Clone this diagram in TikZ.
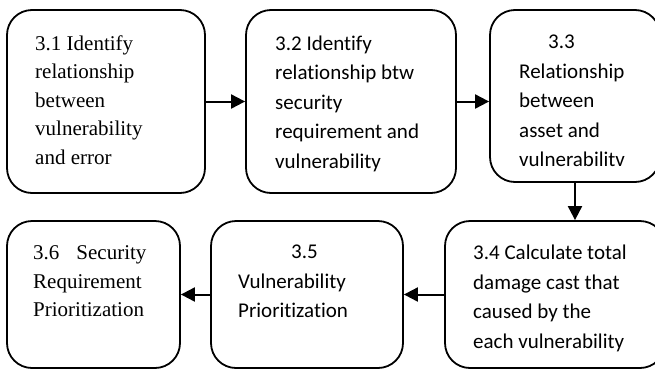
\documentclass[tikz,border=0pt]{standalone}
\usepackage{fontspec}
\setmainfont{Liberation Serif}
\newfontfamily\calfont[Ligatures={NoCommon}]{Carlito}
\usetikzlibrary{arrows.meta}
\tikzset{
  box/.style={draw, line width=1.8pt, rounded corners=25pt, inner sep=0pt},
  serif/.style={anchor=north west, inner sep=0pt, align=left, font=\fontsize{21}{28.5}\selectfont},
  sans/.style={anchor=north west, inner sep=0pt, align=left, font=\calfont\fontsize{21}{29.5}\selectfont},
  arr/.style={line width=2pt, -{Triangle[length=14pt,width=14pt]}}
}
\begin{document}
\begin{tikzpicture}[x=1pt,y=-1pt]
\useasboundingbox (0,0) rectangle (655,370);
\node[box, minimum width=198pt, minimum height=183pt] (b1) at (106,101.5) {};
\node[box, minimum width=210pt, minimum height=183pt] (b2) at (351,101.5) {};
\node[box, minimum width=170pt, minimum height=172pt] (b3) at (575,96) {};
\node[box, minimum width=220pt, minimum height=147pt] (b4) at (555,294.5) {};
\node[box, minimum width=192pt, minimum height=147pt] (b5) at (307,294.5) {};
\node[box, minimum width=173pt, minimum height=147pt] (b6) at (93.5,294.5) {};
\node[serif] (t1) at (35,35.5) {3.1 Identify\\relationship\\between\\vulnerability\\and error};
\node[sans] (t2) at (275,35.5) {3.2 Identify\\relationship btw\\security\\requirement and\\vulnerability};
\node[sans] (t3) at (519,35) {\hspace{29pt}3.3\\Relationship\\between\\asset and\\vulnerabilitv};
\node[sans] (t4) at (473,245) {3.4 Calculate total\\damage cast that\\caused by the\\each vulnerability};
\node[sans] (t5) at (238,245) {\hspace{53pt}3.5\\Vulnerability\\Prioritization};
\node[serif] (t6) at (33,245.5) {3.6\hspace{17pt}Security\\Requirement\\Prioritization};
\draw[arr] (b1.east) -- (b2.west);
\draw[arr] (b2.east) -- (b2.east -| b3.west);
\draw[arr] (b3.south) -- (b3.south |- b4.north);
\draw[arr] (b4.west) -- (b5.east);
\draw[arr] (b5.west) -- (b6.east);
\end{tikzpicture}
\end{document}
